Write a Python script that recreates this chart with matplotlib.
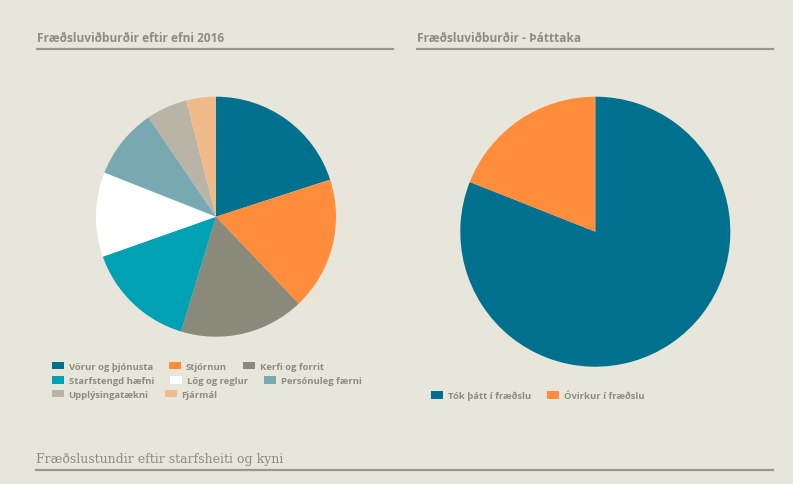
import matplotlib.pyplot as plt
from matplotlib.lines import Line2D

# Gögn lesin af myndinni
efni_labels = ["Vörur og þjónusta", "Stjórnun", "Kerfi og forrit",
               "Starfstengd hæfni", "Lög og reglur", "Persónuleg færni",
               "Upplýsingatækni", "Fjármál"]
efni_values = [20.0, 17.9, 16.8, 14.9, 11.4, 9.5, 5.5, 4.0]
efni_colors = ["#00708f", "#ff8d3b", "#8b8a7a", "#00a1b3",
               "#ffffff", "#78a8b1", "#b8b5a6", "#f0bb8b"]

thatttaka_labels = ["Tók þátt í fræðslu", "Óvirkur í fræðslu"]
thatttaka_values = [81.0, 19.0]
thatttaka_colors = ["#00708f", "#ff8d3b"]

W, H = 793, 485
BG = "#e8e5da"
TXT = "#8e8c80"
plt.rcParams['font.family'] = ['Open Sans', 'DejaVu Sans']

fig = plt.figure(figsize=(W / 100, H / 100), dpi=100, facecolor=BG)


def px_axes(cx, cy, r):
    return fig.add_axes([(cx - r) / W, 1 - (cy + r) / H, 2 * r / W, 2 * r / H])


# Vinstri kaka
ax1 = px_axes(216, 217.7, 120)
w1, _ = ax1.pie(efni_values, colors=efni_colors, startangle=90, counterclock=False,
                wedgeprops=dict(linewidth=0))
ax1.set_xlim(-1, 1)
ax1.set_ylim(-1, 1)
ax1.set_facecolor(BG)

# Hægri kaka
ax2 = px_axes(595.3, 232.7, 135)
w2, _ = ax2.pie(thatttaka_values, colors=thatttaka_colors, startangle=90, counterclock=False,
                wedgeprops=dict(linewidth=0))
ax2.set_xlim(-1, 1)
ax2.set_ylim(-1, 1)
ax2.set_facecolor(BG)


# Fyrirsagnir og línur
def heading(x0, x1, y_text, y_line, text, **kw):
    fig.text(x0 / W, 1 - y_text / H, text, color=TXT, va='center', ha='left', **kw)
    fig.add_artist(Line2D([x0 / W, x1 / W], [1 - y_line / H] * 2, color="#9a988a", lw=1.6))


heading(37, 393, 38.5, 50, "Fræðsluviðburðir eftir efni 2016", fontsize=8.6, fontweight='bold')
heading(417, 773, 38.5, 50, "Fræðsluviðburðir - Þátttaka", fontsize=8.6, fontweight='bold')
heading(36, 773, 459, 471, "Fræðslustundir eftir starfsheiti og kyni",
        fontsize=9, family=['DejaVu Serif'])

# Skýringar: ein lína í einu, eins og flæðandi HTML-skýring
leg_kw = dict(loc='upper left', frameon=False, handlelength=1.25,
              handleheight=0.9, handletextpad=0.5, borderpad=0, borderaxespad=0,
              columnspacing=1.75, labelcolor=TXT, prop=dict(weight='bold', size=6.8))
rows = [[0, 1, 2], [3, 4, 5], [6, 7]]
row_y = [368, 382.5, 396]
for idx, y in zip(rows, row_y):
    fig.legend([w1[i] for i in idx], [efni_labels[i] for i in idx], ncol=len(idx),
               bbox_to_anchor=(52 / W, 1 - (y - 5.5) / H), **leg_kw)
fig.legend(w2, thatttaka_labels, ncol=2, bbox_to_anchor=(431 / W, 1 - (397.5 - 5.5) / H),
           **leg_kw)

fig.savefig("out.png", dpi=100, facecolor=BG)
